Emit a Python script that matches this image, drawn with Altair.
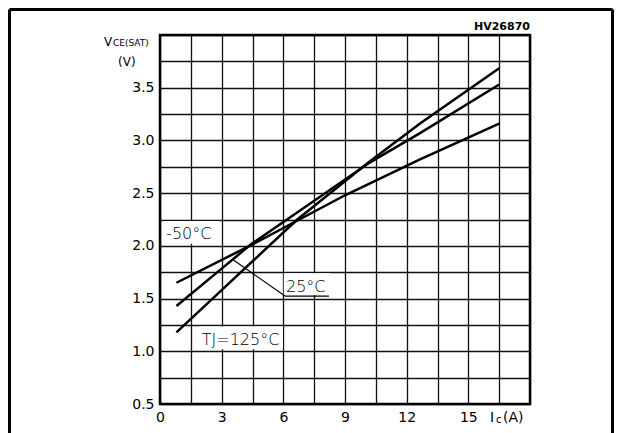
import altair as alt
import pandas as pd

# ---- data ----
ic_125 = [0.8, 3.0, 6.65, 10.2, 12.65, 16.5]
v_125 = [1.18, 1.58, 2.245, 2.80, 3.16, 3.685]
ic_25 = [0.8, 3.0, 4.46, 10.2, 12.65, 16.5]
v_25 = [1.43, 1.784, 2.02, 2.79, 3.07, 3.53]
ic_m50 = [0.8, 4.46, 9.0, 12.65, 16.5]
v_m50 = [1.65, 2.01, 2.48, 2.82, 3.16]

x_grid = [i * 1.5 for i in range(13)]          # 0 .. 18
y_grid = [0.5 + i * 0.25 for i in range(15)]   # 0.5 .. 4.0

# curve labels (text, anchor ic, anchor v)
lab_text = ["-50°C", "25°C", "TJ=125°C"]
lab_x = [0.3, 6.13, 2.03]
lab_y = [2.11, 1.61, 1.107]
# white boxes behind labels
box_x = [0.15, 6.02, 1.9]
box_x2 = [2.9, 8.3, 5.98]
box_y = [2.02, 1.535, 1.02]
box_y2 = [2.235, 1.74, 1.235]
# leader line to the 25°C label
lead_x = [3.57, 6.08]
lead_y = [1.866, 1.524]
lead_x2 = [6.08, 8.22]
lead_y2 = [1.524, 1.524]

rows = []
for name, xs, ys in [("125", ic_125, v_125), ("25", ic_25, v_25), ("-50", ic_m50, v_m50)]:
    for a, b in zip(xs, ys):
        rows.append({"series": name, "ic": a, "v": b})
df = pd.DataFrame(rows)

FONT = "DejaVu Sans"
xscale = alt.Scale(domain=[0, 18], nice=False, zero=False)
yscale = alt.Scale(domain=[0.5, 4.0], nice=False, zero=False)
grid_style = dict(grid=True, gridColor="#111111", gridOpacity=1, gridWidth=1.3,
                  ticks=False, domain=False, title=None, labelFontSize=14,
                  labelFont=FONT, labelColor="black", labelPadding=6,
                  labelFlush=False, labelOverlap=False)
xaxis = alt.Axis(
    values=x_grid,
    labelExpr="datum.value % 3 == 0 && datum.value < 18 ? format(datum.value, 'd') : ''",
    **grid_style,
)
yaxis = alt.Axis(
    values=y_grid,
    labelExpr="(datum.value * 2) % 1 == 0 && datum.value < 4 ? format(datum.value, '.1f') : ''",
    **grid_style,
)

lines = alt.Chart(df).mark_line(color="black", strokeWidth=2.5).encode(
    x=alt.X("ic:Q", scale=xscale, axis=xaxis),
    y=alt.Y("v:Q", scale=yscale, axis=yaxis),
    detail="series:N",
)

boxes = alt.Chart(pd.DataFrame({"x": box_x, "x2": box_x2, "y": box_y, "y2": box_y2})).mark_rect(
    color="white"
).encode(
    x=alt.X("x:Q", scale=xscale, axis=xaxis), x2="x2:Q",
    y=alt.Y("y:Q", scale=yscale, axis=yaxis), y2="y2:Q",
)

labels = alt.Chart(pd.DataFrame({"t": lab_text, "x": lab_x, "y": lab_y})).mark_text(
    align="left", baseline="middle", fontSize=16, font=FONT, color="black", fontWeight=300
).encode(
    x=alt.X("x:Q", scale=xscale, axis=xaxis),
    y=alt.Y("y:Q", scale=yscale, axis=yaxis),
    text="t:N",
)

leaders = alt.Chart(pd.DataFrame({"x": lead_x, "y": lead_y, "x2": lead_x2, "y2": lead_y2})).mark_rule(
    color="black", strokeWidth=1.2
).encode(
    x=alt.X("x:Q", scale=xscale, axis=xaxis), x2="x2:Q",
    y=alt.Y("y:Q", scale=yscale, axis=yaxis), y2="y2:Q",
)

one = pd.DataFrame({"a": [0]})


def txt(s, px, py, size, align="left", weight="normal"):
    return alt.Chart(one).mark_text(
        text=s, align=align, baseline="middle", fontSize=size, font=FONT,
        fontWeight=weight, color="black"
    ).encode(x=alt.value(px), y=alt.value(py))


annots = [
    txt("HV26870", 370, -8, 11, align="right", weight="bold"),
    txt("V", -56, 7, 12),
    txt("CE(SAT)", -47, 8, 9),
    txt("(V)", -42, 27, 12),
    txt("I", 330, 383, 14),
    txt("c", 336, 385, 10),
    txt("(A)", 343, 383, 14),
]

# plot frame
plot_frame = alt.Chart(one).mark_rect(fill=None, stroke="black", strokeWidth=2.5).encode(
    x=alt.value(0), x2=alt.value(370), y=alt.value(0), y2=alt.value(369))

# outer frame of the figure (left, top, right)
frame = [
    alt.Chart(one).mark_rule(color="black", strokeWidth=3).encode(
        x=alt.value(-150.5), y=alt.value(-25.5), y2=alt.value(398)),
    alt.Chart(one).mark_rule(color="black", strokeWidth=3).encode(
        x=alt.value(-150.5), x2=alt.value(452.5), y=alt.value(-25.5)),
    alt.Chart(one).mark_rule(color="black", strokeWidth=3).encode(
        x=alt.value(452.5), y=alt.value(-25.5), y2=alt.value(398)),
]

chart = alt.layer(lines, boxes, labels, leaders, plot_frame, *annots, *frame).properties(
    width=370, height=369,
    autosize=alt.AutoSizeParams(type="none"),
    padding={"left": 152, "top": 27, "right": 84, "bottom": 29},
    background="white",
).configure_view(
    stroke=None
)

chart.save("out.html", embed_options={"renderer": "svg", "actions": False})
